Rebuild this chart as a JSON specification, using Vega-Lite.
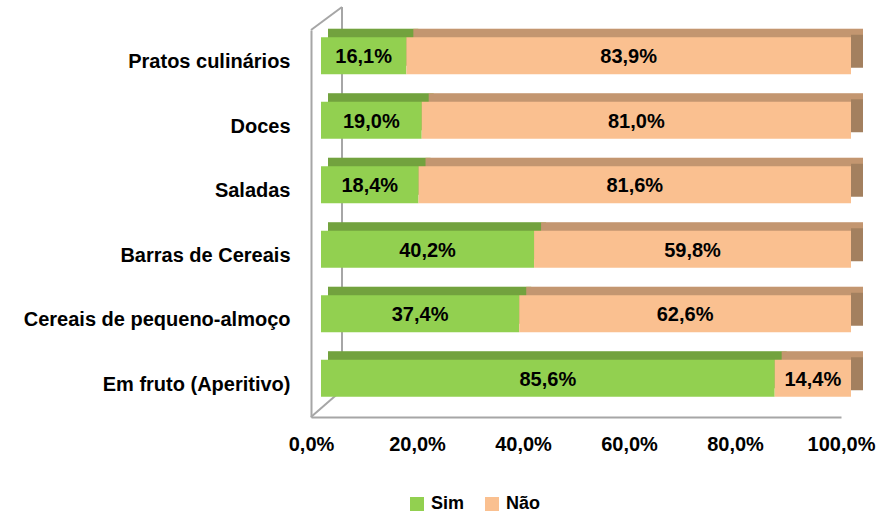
{
  "$schema": "https://vega.github.io/schema/vega-lite/v6.json",
  "width": 530,
  "height": 387,
  "autosize": {"type": "none"},
  "padding": {"left": 311, "top": 30, "right": 38, "bottom": 98},
  "config": {
    "locale": {"number": {"decimal": ",", "thousands": ".", "grouping": [3], "currency": ["", " €"]}},
    "view": {"stroke": null},
    "font": "Liberation Sans"
  },
  "data": {
    "values": [
      {"cat": "Pratos culinários", "s": "Sim", "v": 0.161},
      {"cat": "Pratos culinários", "s": "Não", "v": 0.839},
      {"cat": "Doces", "s": "Sim", "v": 0.190},
      {"cat": "Doces", "s": "Não", "v": 0.810},
      {"cat": "Saladas", "s": "Sim", "v": 0.184},
      {"cat": "Saladas", "s": "Não", "v": 0.816},
      {"cat": "Barras de Cereais", "s": "Sim", "v": 0.402},
      {"cat": "Barras de Cereais", "s": "Não", "v": 0.598},
      {"cat": "Cereais de pequeno-almoço", "s": "Sim", "v": 0.374},
      {"cat": "Cereais de pequeno-almoço", "s": "Não", "v": 0.626},
      {"cat": "Em fruto (Aperitivo)", "s": "Sim", "v": 0.856},
      {"cat": "Em fruto (Aperitivo)", "s": "Não", "v": 0.144}
    ]
  },
  "transform": [
    {"stack": "v", "groupby": ["cat"], "sort": [{"field": "s", "order": "descending"}], "as": ["v0", "v1"]},
    {"calculate": "(datum.v0 + datum.v1) / 2", "as": "mid"}
  ],
  "layer": [
    {
      "data": {"values": [{}]},
      "mark": {"type": "rule", "color": "#a6a6a6", "strokeWidth": 2, "xOffset": 31, "x2Offset": 31, "yOffset": -23, "y2Offset": -27},
      "encoding": {
        "x": {"datum": 0, "type": "quantitative", "scale": {"domain": [0, 1], "nice": false}},
        "x2": {"datum": 0},
        "y": {"datum": "Pratos culinários", "type": "nominal", "bandPosition": 0},
        "y2": {"datum": "Em fruto (Aperitivo)", "bandPosition": 1}
      }
    },
    {
      "data": {"values": [{}]},
      "mark": {"type": "rule", "color": "#a6a6a6", "strokeWidth": 2, "x2Offset": 31, "y2Offset": -23},
      "encoding": {
        "x": {"datum": 0, "type": "quantitative"},
        "x2": {"datum": 0},
        "y": {"datum": "Pratos culinários", "type": "nominal", "bandPosition": 0},
        "y2": {"datum": "Pratos culinários", "bandPosition": 0}
      }
    },
    {
      "data": {"values": [{}]},
      "mark": {"type": "rule", "color": "#a6a6a6", "strokeWidth": 2, "x2Offset": 31, "y2Offset": -27},
      "encoding": {
        "x": {"datum": 0, "type": "quantitative"},
        "x2": {"datum": 0},
        "y": {"datum": "Em fruto (Aperitivo)", "type": "nominal", "bandPosition": 1},
        "y2": {"datum": "Em fruto (Aperitivo)", "bandPosition": 1}
      }
    },
    {
      "mark": {"type": "bar", "size": 37, "xOffset": 17, "x2Offset": 22, "yOffset": -15},
      "encoding": {
        "y": {
          "field": "cat", "type": "nominal",
          "sort": ["Pratos culinários", "Doces", "Saladas", "Barras de Cereais", "Cereais de pequeno-almoço", "Em fruto (Aperitivo)"],
          "scale": {"paddingInner": 0, "paddingOuter": 0},
          "axis": {
            "title": null, "ticks": false, "domainColor": "#a6a6a6", "domainWidth": 2,
            "labelPadding": 21, "labelFontSize": 20, "labelFontWeight": "bold", "labelColor": "#000000", "labelLimit": 400
          }
        },
        "x": {
          "field": "v0", "type": "quantitative",
          "axis": {
            "title": null, "values": [0, 0.2, 0.4, 0.6, 0.8, 1], "format": ".1%", "grid": false, "ticks": false,
            "domainColor": "#a6a6a6", "domainWidth": 2, "labelPadding": 17, "labelFontSize": 20,
            "labelFontWeight": "bold", "labelColor": "#000000", "labelFlush": false
          }
        },
        "x2": {"field": "v1"},
        "fill": {
          "field": "s", "type": "nominal",
          "scale": {"domain": ["Sim", "Não"], "range": ["#92D050", "#FAC090"]},
          "legend": {
            "title": null, "orient": "none", "legendX": 97, "legendY": 465,
            "direction": "horizontal", "symbolType": "square", "symbolSize": 196,
            "symbolStrokeWidth": 0, "labelFontSize": 18, "labelFontWeight": "bold",
            "labelColor": "#000000", "labelFont": "Liberation Sans", "columnPadding": 18, "labelOffset": 5
          }
        }
      }
    },
    {
      "transform": [{"filter": "datum.s == 'Sim'"}],
      "mark": {"type": "bar", "size": 37, "xOffset": 17, "x2Offset": 22, "yOffset": -15, "fill": "#000000", "fillOpacity": 0.22},
      "encoding": {
        "y": {"field": "cat", "type": "nominal", "sort": ["Pratos culinários", "Doces", "Saladas", "Barras de Cereais", "Cereais de pequeno-almoço", "Em fruto (Aperitivo)"]},
        "x": {"field": "v0", "type": "quantitative"},
        "x2": {"datum": 1}
      }
    },
    {
      "transform": [{"filter": "datum.s == 'Não'"}],
      "mark": {"type": "bar", "size": 33, "xOffset": 10, "x2Offset": 22, "yOffset": -11, "fill": "#a3805f"},
      "encoding": {
        "y": {"field": "cat", "type": "nominal", "sort": ["Pratos culinários", "Doces", "Saladas", "Barras de Cereais", "Cereais de pequeno-almoço", "Em fruto (Aperitivo)"]},
        "x": {"field": "v1", "type": "quantitative"},
        "x2": {"field": "v1"}
      }
    },
    {
      "mark": {"type": "bar", "size": 37, "xOffset": 10, "x2Offset": 10, "yOffset": -6.5},
      "encoding": {
        "y": {"field": "cat", "type": "nominal", "sort": ["Pratos culinários", "Doces", "Saladas", "Barras de Cereais", "Cereais de pequeno-almoço", "Em fruto (Aperitivo)"]},
        "x": {"field": "v0", "type": "quantitative"},
        "x2": {"field": "v1"},
        "fill": {"field": "s", "type": "nominal"}
      }
    },
    {
      "mark": {"type": "text", "fontSize": 20, "fontWeight": "bold", "color": "#000000", "xOffset": 10, "yOffset": -5},
      "encoding": {
        "y": {"field": "cat", "type": "nominal", "sort": ["Pratos culinários", "Doces", "Saladas", "Barras de Cereais", "Cereais de pequeno-almoço", "Em fruto (Aperitivo)"]},
        "x": {"field": "mid", "type": "quantitative"},
        "text": {"field": "v", "type": "quantitative", "format": ".1%"}
      }
    }
  ]
}
